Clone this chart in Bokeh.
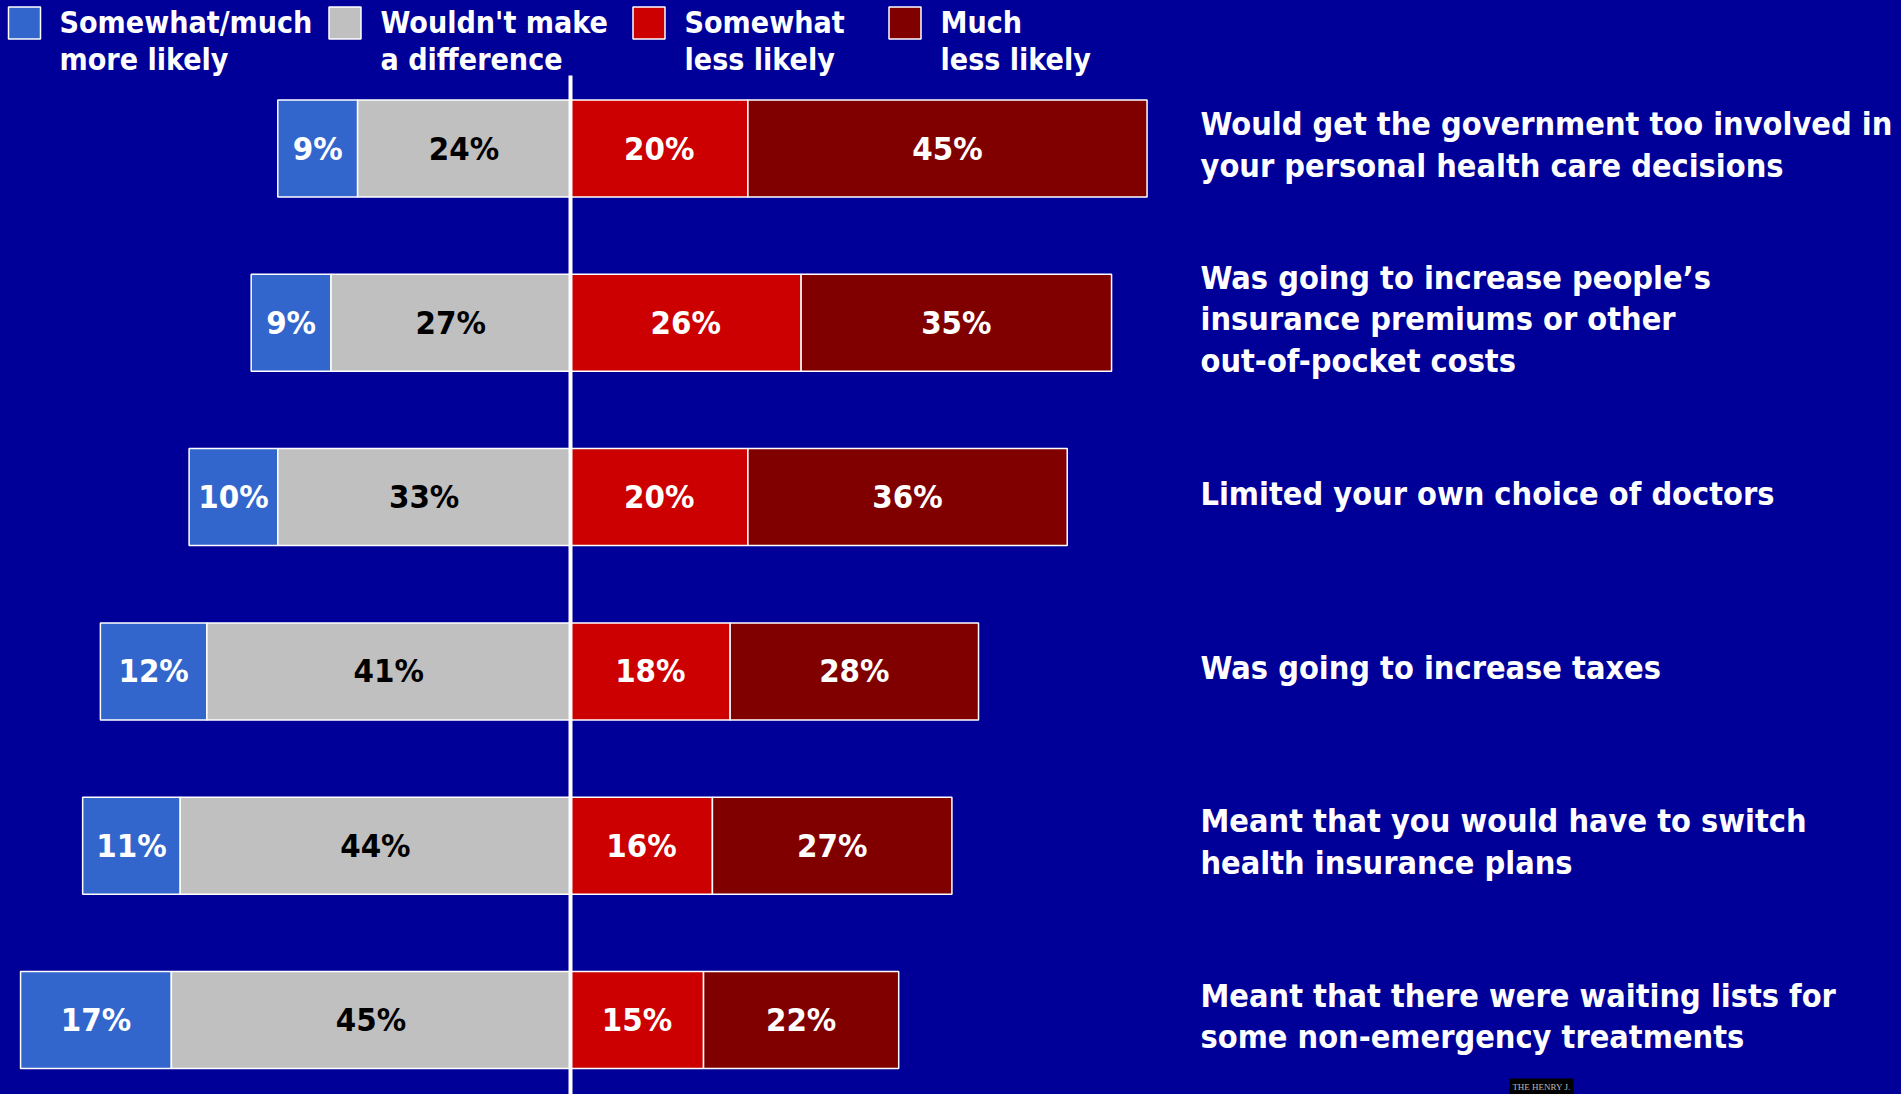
import os, subprocess
from bokeh.plotting import figure
from bokeh.models import Range1d, ColumnDataSource, Label
from bokeh.core.properties import value
from bokeh.embed import file_html
from bokeh.resources import INLINE

# ---- data ----
statements = [
    "Would get the government too involved in\nyour personal health care decisions",
    "Was going to increase people\u2019s\ninsurance premiums or other\nout-of-pocket costs",
    "Limited your own choice of doctors",
    "Was going to increase taxes",
    "Meant that you would have to switch\nhealth insurance plans",
    "Meant that there were waiting lists for\nsome non-emergency treatments",
]
more_likely = [9, 9, 10, 12, 11, 17]
no_difference = [24, 27, 33, 41, 44, 45]
somewhat_less = [20, 26, 20, 18, 16, 15]
much_less = [45, 35, 36, 28, 27, 22]
series_names = ["Somewhat/much\nmore likely", "Wouldn't make\na difference",
                "Somewhat\nless likely", "Much\nless likely"]

# ---- font choice: prefer a narrow bold sans ----
def installed_families():
    fams = set()
    try:
        out = subprocess.run(["fc-list", ":", "family"], capture_output=True, text=True, timeout=10).stdout
        for line in out.splitlines():
            for f in line.split(","):
                fams.add(f.strip())
    except Exception:
        pass
    return fams

FAMS = installed_families()
# (family, width factor vs Arial Bold, line-box factor)
PREFS = [("Liberation Sans Narrow", 0.82, 1.15), ("Nimbus Sans Narrow", 0.82, 1.15),
         ("Arial Narrow", 0.82, 1.15), ("DejaVu Sans Condensed", 1.055, 1.16),
         ("Roboto Condensed", 0.90, 1.17), ("Liberation Sans", 1.0, 1.15)]
font_name, wf, lf = "DejaVu Sans Condensed", 1.055, 1.16
for name, f, l in PREFS:
    if name in FAMS:
        font_name, wf, lf = name, f, l
        break
FONT = value(font_name)

# ---- style ----
BG = "#000099"
COLORS = ["#3366CC", "#C0C0C0", "#CC0000", "#800000"]
LABEL_COLORS = ["white", "black", "white", "white"]

W, H = 1901, 1094
PX_PER_PCT = 8.87
CENTER_PX = 570.0
ROW_PX = 174.3
ROW0_PX = 148.0

x_start = -CENTER_PX / PX_PER_PCT
x_end = (W - CENTER_PX) / PX_PER_PCT
y_top = ROW0_PX / ROW_PX
y_bot = y_top - H / ROW_PX

def fx(px):  # pixel x -> data x (layout helper for decorations)
    return (px - CENTER_PX) / PX_PER_PCT

def fy(py):  # pixel y -> data y
    return y_top - py / ROW_PX

s_stmt = 34.0 / wf
s_pct = 34.5 / wf
s_leg = 31.8 / wf

p = figure(width=W, height=H, output_backend="svg", toolbar_location=None,
           x_range=Range1d(x_start, x_end), y_range=Range1d(y_bot, y_top),
           min_border=0, background_fill_color=BG, border_fill_color=BG,
           outline_line_color=None)
p.axis.visible = False
p.grid.visible = False

n = len(statements)
ys = [-i for i in range(n)]
lefts = [[-(a + b) for a, b in zip(more_likely, no_difference)],
         [-b for b in no_difference],
         [0] * n,
         list(somewhat_less)]
rights = [[-b for b in no_difference],
          [0] * n,
          list(somewhat_less),
          [c + d for c, d in zip(somewhat_less, much_less)]]
vals = [more_likely, no_difference, somewhat_less, much_less]

BAR_H = 97 / ROW_PX
for k in range(4):
    src = ColumnDataSource(dict(y=ys, left=lefts[k], right=rights[k],
                                mid=[(l + r) / 2 for l, r in zip(lefts[k], rights[k])],
                                lab=[f"{v}%" for v in vals[k]]))
    p.hbar(y="y", left="left", right="right", height=BAR_H, source=src,
           fill_color=COLORS[k], line_color="white", line_width=1.5)
    p.text(x="mid", y="y", text="lab", source=src, text_font=FONT,
           text_font_style="bold", text_font_size=f"{s_pct:.1f}px",
           text_color=LABEL_COLORS[k], text_align="center", text_baseline="middle")

# center divider line
p.segment(x0=[0], y0=[fy(75)], x1=[0], y1=[y_bot], line_color="white", line_width=4)

# statement labels
p.text(x=[fx(1200)] * n, y=[v + 0.02 for v in ys], text=statements, text_font=FONT,
       text_font_style="bold", text_font_size=f"{s_stmt:.1f}px", text_color="white",
       text_align="left", text_baseline="middle", text_line_height=41 / s_stmt / lf)

# legend
sq_x = [24, 344.5, 648.5, 904.5]
tx_x = [59, 380, 684, 940]
p.rect(x=[fx(v) for v in sq_x], y=[fy(22.5)] * 4, width=32, height=32,
       width_units="screen", height_units="screen",
       fill_color=COLORS, line_color="white", line_width=1.5)
p.text(x=[fx(v) for v in tx_x], y=[fy(40.5)] * 4, text=series_names, text_font=FONT,
       text_font_style="bold", text_font_size=f"{s_leg:.1f}px", text_color="white",
       text_align="left", text_baseline="middle", text_line_height=37 / s_leg / lf)

# small source logo
p.add_layout(Label(x=fx(1541), y=fy(1086), text="THE HENRY J.", text_font="Liberation Serif",
                   text_font_size="9px", text_color="#bbbbbb", text_align="center",
                   text_baseline="middle", background_fill_color="black",
                   border_line_color=None, padding=3))

html = file_html(p, INLINE)
html = html.replace("<head>", "<head><style>html,body{margin:0;padding:0;overflow:hidden;background:#000099;}</style>", 1)
open("out.html", "w").write(html)
